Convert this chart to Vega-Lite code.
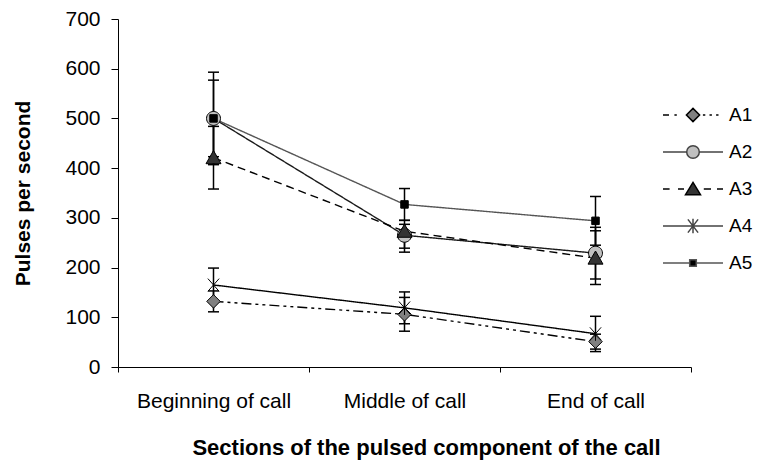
{
  "$schema": "https://vega.github.io/schema/vega-lite/v6.json",
  "width": 573,
  "height": 348,
  "autosize": "none",
  "padding": {"left": 118, "top": 19, "right": 67, "bottom": 94},
  "background": "white",
  "config": {
    "view": {"stroke": null},
    "font": "Liberation Sans",
    "axis": {
      "grid": false,
      "domainColor": "black",
      "domainWidth": 1,
      "tickColor": "black",
      "labelColor": "black",
      "labelFont": "Liberation Sans",
      "labelFontSize": 21,
      "titleFont": "Liberation Sans",
      "titleFontSize": 21,
      "titleFontWeight": "bold",
      "titleColor": "black"
    }
  },
  "data": {
    "values": [
      {"series": "A1", "section": "Beginning of call", "value": 132, "lo": 111, "hi": 153},
      {"series": "A1", "section": "Middle of call", "value": 106, "lo": 72, "hi": 140},
      {"series": "A1", "section": "End of call", "value": 51, "lo": 36, "hi": 66},
      {"series": "A2", "section": "Beginning of call", "value": 500, "lo": 407, "hi": 593},
      {"series": "A2", "section": "Middle of call", "value": 265, "lo": 231, "hi": 295},
      {"series": "A2", "section": "End of call", "value": 229, "lo": 177, "hi": 281},
      {"series": "A3", "section": "Beginning of call", "value": 421, "lo": 358, "hi": 484},
      {"series": "A3", "section": "Middle of call", "value": 273, "lo": 239, "hi": 287},
      {"series": "A3", "section": "End of call", "value": 219, "lo": 166, "hi": 274},
      {"series": "A4", "section": "Beginning of call", "value": 165, "lo": 131, "hi": 199},
      {"series": "A4", "section": "Middle of call", "value": 119, "lo": 87, "hi": 151},
      {"series": "A4", "section": "End of call", "value": 67, "lo": 31, "hi": 102},
      {"series": "A5", "section": "Beginning of call", "value": 500, "lo": 423, "hi": 577},
      {"series": "A5", "section": "Middle of call", "value": 327, "lo": 295, "hi": 359},
      {"series": "A5", "section": "End of call", "value": 294, "lo": 245, "hi": 343}
    ]
  },
  "encoding": {
    "x": {
      "field": "section",
      "type": "nominal",
      "sort": ["Beginning of call", "Middle of call", "End of call"],
      "scale": {"type": "band", "paddingInner": 0, "paddingOuter": 0},
      "axis": {
        "title": "Sections of the pulsed component of the call",
        "titleFontSize": 22,
        "labelAngle": 0,
        "tickBand": "extent",
        "tickSize": 5,
        "labelPadding": 35,
        "labelBaseline": "alphabetic",
        "titleX": 308,
        "titleY": 87,
        "titleBaseline": "alphabetic",
        "titleAlign": "center",
        "titleAnchor": null
      }
    }
  },
  "layer": [
    {
      "mark": {"type": "rule", "color": "black", "strokeWidth": 1.5},
      "encoding": {
        "y": {
          "field": "lo",
          "type": "quantitative",
          "title": "Pulses per second",
          "scale": {"domain": [0, 700], "nice": false},
          "axis": {
            "values": [0, 100, 200, 300, 400, 500, 600, 700],
            "tickSize": 7,
            "labelPadding": 11,
            "titleAngle": 270,
            "titleBaseline": "alphabetic",
            "titleX": -89,
            "titleY": 174,
            "titleAlign": "center",
            "titleAnchor": null
          }
        },
        "y2": {"field": "hi"}
      }
    },
    {
      "mark": {"type": "tick", "color": "black", "size": 11, "thickness": 1.5, "opacity": 1},
      "encoding": {"y": {"field": "hi", "type": "quantitative", "title": "Pulses per second"}}
    },
    {
      "mark": {"type": "tick", "color": "black", "size": 11, "thickness": 1.5, "opacity": 1},
      "encoding": {"y": {"field": "lo", "type": "quantitative", "title": "Pulses per second"}}
    },
    {
      "mark": {"type": "line", "strokeWidth": 1.4},
      "encoding": {
        "y": {"field": "value", "type": "quantitative", "title": "Pulses per second"},
        "detail": {"field": "series"},
        "stroke": {
          "field": "series",
          "type": "nominal",
          "scale": {"domain": ["A1", "A2", "A3", "A4", "A5"], "range": ["black", "#1a1a1a", "black", "black", "#555555"]},
          "legend": null
        },
        "strokeDash": {
          "field": "series",
          "type": "nominal",
          "scale": {"domain": ["A1", "A2", "A3", "A4", "A5"], "range": [[10, 4, 3, 4, 3, 4], [1, 0], [8, 5], [1, 0], [1, 0]]},
          "legend": null
        }
      }
    },
    {
      "mark": {"type": "point", "size": 225, "stroke": "black", "strokeWidth": 1, "opacity": 1},
      "encoding": {
        "y": {"field": "value", "type": "quantitative", "title": "Pulses per second"},
        "shape": {
          "field": "series",
          "type": "nominal",
          "scale": {
            "domain": ["A1", "A2", "A3", "A4", "A5"],
            "range": [
              "M0,-0.9L0.9,0L0,0.9L-0.9,0Z",
              "M0.93,0A0.93,0.93,0,1,1,-0.93,0A0.93,0.93,0,1,1,0.93,0Z",
              "M0,-0.95L1,0.8L-1,0.8Z",
              "M-0.75,-0.85L0.75,0.85M-0.75,0.85L0.75,-0.85M0,-0.95L0,0.95",
              "M-0.5,-0.5L0.5,-0.5L0.5,0.5L-0.5,0.5Z"
            ]
          },
          "legend": null
        },
        "fill": {
          "field": "series",
          "type": "nominal",
          "scale": {"domain": ["A1", "A2", "A3", "A4", "A5"], "range": ["#808080", "#c0c0c0", "#333333", "transparent", "black"]},
          "legend": null
        }
      }
    },
    {
      "transform": [{"filter": "datum.section == 'none'"}],
      "mark": {"type": "point", "size": 3600, "strokeWidth": 1.5, "opacity": 1},
      "encoding": {
        "y": {"field": "value", "type": "quantitative", "title": "Pulses per second"},
        "shape": {
          "field": "series",
          "type": "nominal",
          "scale": {
            "domain": ["A1", "A2", "A3", "A4", "A5"],
            "range": [
              "M-1,0L-0.8,0M-0.62,0L-0.54,0M-0.22,0L0,-0.22L0.22,0L0,0.22ZM0.33,0L0.41,0M0.55,0L0.63,0M0.77,0L0.85,0",
              "M-1,0L-0.21,0M0.21,0L1,0M0.21,0A0.21,0.21,0,1,1,-0.21,0A0.21,0.21,0,1,1,0.21,0Z",
              "M-1,0L-0.78,0M-0.5,0L-0.3,0M0.36,0L0.6,0M0.8,0L1,0M0,-0.22L0.25,0.19L-0.25,0.19Z",
              "M-1,0L1,0M-0.17,-0.22L0.17,0.22M-0.17,0.22L0.17,-0.22M0,-0.24L0,0.24",
              "M-1,0L-0.11,0M0.11,0L1,0M-0.11,-0.11L0.11,-0.11L0.11,0.11L-0.11,0.11Z"
            ]
          },
          "legend": {
            "title": null, "orient": "none", "legendX": 544, "legendY": 86,
            "symbolSize": 3600, "symbolStrokeWidth": 1.5, "symbolOpacity": 1,
            "labelFont": "Liberation Sans", "labelFontSize": 19, "labelColor": "black",
            "labelOffset": 5, "rowPadding": 17, "padding": 0, "clipHeight": 20
          }
        },
        "fill": {
          "field": "series",
          "type": "nominal",
          "scale": {"domain": ["A1", "A2", "A3", "A4", "A5"], "range": ["#808080", "#c0c0c0", "#333333", "transparent", "black"]},
          "legend": {
            "title": null, "orient": "none", "legendX": 544, "legendY": 86,
            "symbolSize": 3600, "symbolStrokeWidth": 1.5, "symbolOpacity": 1,
            "labelFont": "Liberation Sans", "labelFontSize": 19, "labelColor": "black",
            "labelOffset": 5, "rowPadding": 17, "padding": 0, "clipHeight": 20
          }
        },
        "stroke": {
          "field": "series",
          "type": "nominal",
          "scale": {"domain": ["A1", "A2", "A3", "A4", "A5"], "range": ["black", "#444444", "black", "#444444", "#555555"]},
          "legend": {
            "title": null, "orient": "none", "legendX": 544, "legendY": 86,
            "symbolSize": 3600, "symbolStrokeWidth": 1.5, "symbolOpacity": 1,
            "labelFont": "Liberation Sans", "labelFontSize": 19, "labelColor": "black",
            "labelOffset": 5, "rowPadding": 17, "padding": 0, "clipHeight": 20
          }
        }
      }
    }
  ],
  "resolve": {"scale": {"shape": "independent", "fill": "independent", "stroke": "independent"}}
}
